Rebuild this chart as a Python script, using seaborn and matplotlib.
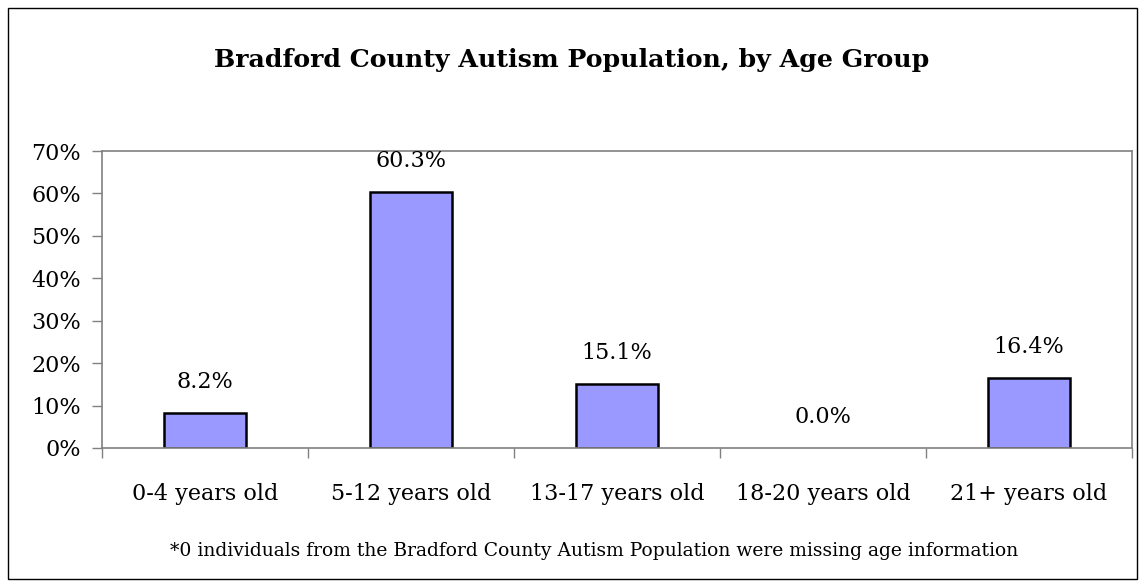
import seaborn as sns
import matplotlib.pyplot as plt
from matplotlib.patches import Rectangle
from matplotlib.ticker import PercentFormatter

# age groups and share of the autism population
age_groups = ['0-4 years old', '5-12 years old', '13-17 years old', '18-20 years old', '21+ years old']
shares = [8.2, 60.3, 15.1, 0.0, 16.4]

sns.set_style('white')
plt.rcParams['font.family'] = ['DejaVu Serif']
plt.rcParams['text.color'] = 'black'
plt.rcParams['xtick.color'] = 'black'
plt.rcParams['ytick.color'] = 'black'

fig = plt.figure(figsize=(11.45, 5.87), dpi=100)
ax = fig.add_axes([102 / 1145, 1 - 448 / 587, 1030 / 1145, 297 / 587])

sns.barplot(x=age_groups, y=shares, color='#9999FF', width=0.40,
            edgecolor='black', linewidth=1.8, saturation=1, ax=ax)
for bar, v in zip(ax.patches, shares):
    if v == 0:
        bar.set_linewidth(0)

ax.set_ylim(0, 70)
ax.set_xlim(-0.5, 4.5)
ax.set_yticks(range(0, 71, 10))
ax.yaxis.set_major_formatter(PercentFormatter(decimals=0))
ax.tick_params(axis='y', labelsize=16, length=7, width=1, color='#808080',
               labelcolor='black', direction='out', left=True, pad=8)
ax.set_xticks([i + 0.5 for i in range(-1, 5)], minor=False)
ax.set_xticklabels([])
ax.set_xticks(range(5), minor=True)
ax.set_xticklabels(age_groups, minor=True)
ax.tick_params(axis='x', which='major', length=7, width=1, color='#808080',
               direction='out', bottom=True)
ax.tick_params(axis='x', which='minor', length=0, labelsize=16, pad=25,
               labelcolor='black')
for s in ax.spines.values():
    s.set_color('#808080')
    s.set_linewidth(1.2)

for i, v in enumerate(shares):
    ax.text(i, v + 7.3, f'{v:.1f}%', ha='center', va='center', fontsize=16,
            color='black')

fig.text(572 / 1145, 1 - 60 / 587, 'Bradford County Autism Population, by Age Group',
         ha='center', va='center', fontsize=18.2, fontweight='bold', color='black')
fig.text(594 / 1145, 1 - 551 / 587,
         '*0 individuals from the Bradford County Autism Population were missing age information',
         ha='center', va='center', fontsize=13.5, color='black')

fig.patches.append(Rectangle((8 / 1145, 8 / 587), 1129 / 1145, 571 / 587,
                             transform=fig.transFigure, fill=False,
                             edgecolor='black', linewidth=1))

fig.savefig('out.png', dpi=100)
